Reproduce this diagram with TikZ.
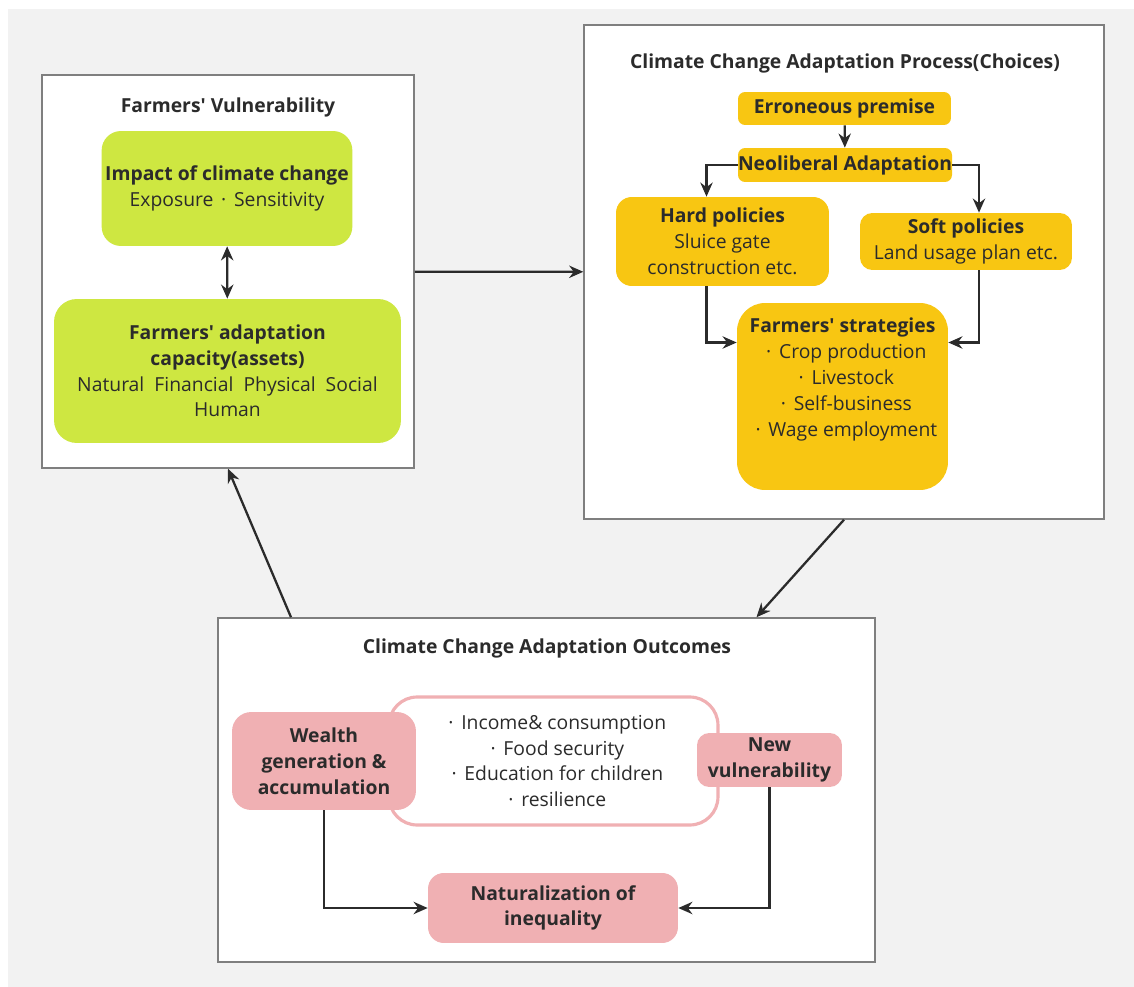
\documentclass[tikz,border=0pt]{standalone}
\usepackage{fontspec}
\setmainfont{Open Sans}
\usetikzlibrary{positioning,arrows.meta,calc}
\definecolor{canvas}{HTML}{F2F2F2}
\definecolor{framec}{HTML}{7F7F7F}
\definecolor{limefill}{HTML}{CEE741}
\definecolor{amberfill}{HTML}{F8C612}
\definecolor{rosefill}{HTML}{F0B0B3}
\definecolor{ink}{HTML}{2B2B2B}
\newcommand\kdot{\hspace{0.4em}\textperiodcentered\hspace{0.4em}}
\newcommand\apos{\textquotesingle}

\begin{document}
\begin{tikzpicture}[x=0.02cm, y=-0.02cm,
  >={Stealth[length=8pt,width=7pt]},
  frame/.style={draw=framec, line width=0.9pt, fill=white, inner sep=0pt},
  head/.style={font=\bfseries\fontsize{11}{14.7}\selectfont, text=ink},
  card/.style={rounded corners=#1, align=center, inner sep=2pt, text=ink,
    font=\fontsize{11}{14.7}\selectfont},
  strong/.style={font=\bfseries\fontsize{11}{14.7}\selectfont},
  arr/.style={->, line width=1.3pt, draw=ink}]
  \useasboundingbox (0,0) rectangle (1134,987);
  \fill[canvas] (8,9) rectangle (1134,987);

  % vulnerability
  \node[frame, minimum width=7.44cm, minimum height=7.86cm] (vul) at (228,271.5) {};
  \node[head] (vultitle) at (228,107) {Farmers\apos{} Vulnerability};
  \node[card=11pt, fill=limefill, minimum width=5cm, minimum height=2.3cm] (impact) at (227,188.5)
    {\textbf{Impact of climate change}\\Exposure\kdot Sensitivity};
  \node[card=13pt, fill=limefill, minimum width=6.94cm, minimum height=2.88cm] (capacity) at (227.5,371)
    {\textbf{Farmers\apos{} adaptation}\\\textbf{capacity(assets)}\\Natural\ \ Financial\ \ Physical\ \ Social\\Human};
  \draw[arr, <->] (impact) -- (capacity);

  % process
  \node[frame, minimum width=10.4cm, minimum height=9.88cm] (proc) at (844,272) {};
  \node[head] (proctitle) at (845,63) {Climate Change Adaptation Process(Choices)};
  \node[card=4pt, strong, fill=amberfill, inner sep=0pt, minimum width=4.26cm, minimum height=0.66cm] (premise) at (844.5,108.5)
    {Erroneous premise};
  \node[card=4pt, strong, fill=amberfill, inner sep=0pt, minimum width=4.28cm, minimum height=0.68cm] (neo) at (845,165)
    {Neoliberal Adaptation};
  \node[card=9pt, fill=amberfill, minimum width=4.26cm, minimum height=1.78cm] (hard) at (722.5,241.5)
    {\textbf{Hard policies}\\Sluice gate\\construction etc.};
  \node[card=7pt, fill=amberfill, minimum width=4.24cm, minimum height=1.14cm] (soft) at (966,241.5)
    {\textbf{Soft policies}\\Land usage plan etc.};
  \node[card=16pt, fill=amberfill, text depth=22pt, minimum width=4.22cm, minimum height=3.74cm] (strat) at (842.5,396.5)
    {\textbf{Farmers\apos{} strategies}\\\kdot Crop production\\\kdot Livestock\\
     \kdot Self-business\\\kdot Wage employment};
  \draw[arr] (premise) -- (neo);
  \draw[arr] (neo.west) -| ($(hard.north)+(-16,0)$);
  \draw[arr] (neo.east) -| ($(soft.north)+(13,0)$);
  \draw[arr] ($(hard.south)+(-16,0)$) |- ($(strat.west)+(0,-54)$);
  \draw[arr] ($(soft.south)+(13,0)$) |- ($(strat.east)+(0,-54)$);

  % outcomes
  \node[frame, minimum width=13.14cm, minimum height=6.88cm] (outc) at (546.5,790) {};
  \node[head] (outctitle) at (547,648) {Climate Change Adaptation Outcomes};
  \node[card=16pt, draw=rosefill, line width=1.8pt, fill=white, minimum width=6.58cm, minimum height=2.56cm] (gains) at (553.5,761)
    {\kdot Income\& consumption\\\kdot Food security\\
     \kdot Education for children\\\kdot resilience};
  \node[card=11pt, strong, fill=rosefill, minimum width=3.68cm, minimum height=1.96cm] (wealth) at (324,761)
    {Wealth\\generation \&\\accumulation};
  \node[card=7pt, strong, fill=rosefill, minimum width=2.9cm, minimum height=1.08cm] (newv) at (769.5,760)
    {New\\vulnerability};
  \node[card=9pt, strong, fill=rosefill, minimum width=5cm, minimum height=1.4cm] (natur) at (553,908)
    {Naturalization of\\inequality};
  \draw[arr] (wealth.south) |- (natur.west);
  \draw[arr] (newv.south) |- (natur.east);

  % links between frames
  \draw[arr] (vul) -- (proc);
  \draw[arr] (proc.south) -- ($(outc.north)+(210,0)$);
  \draw[arr] ($(outc.north)+(-255.5,0)$) -- (vul.south);
\end{tikzpicture}
\end{document}
